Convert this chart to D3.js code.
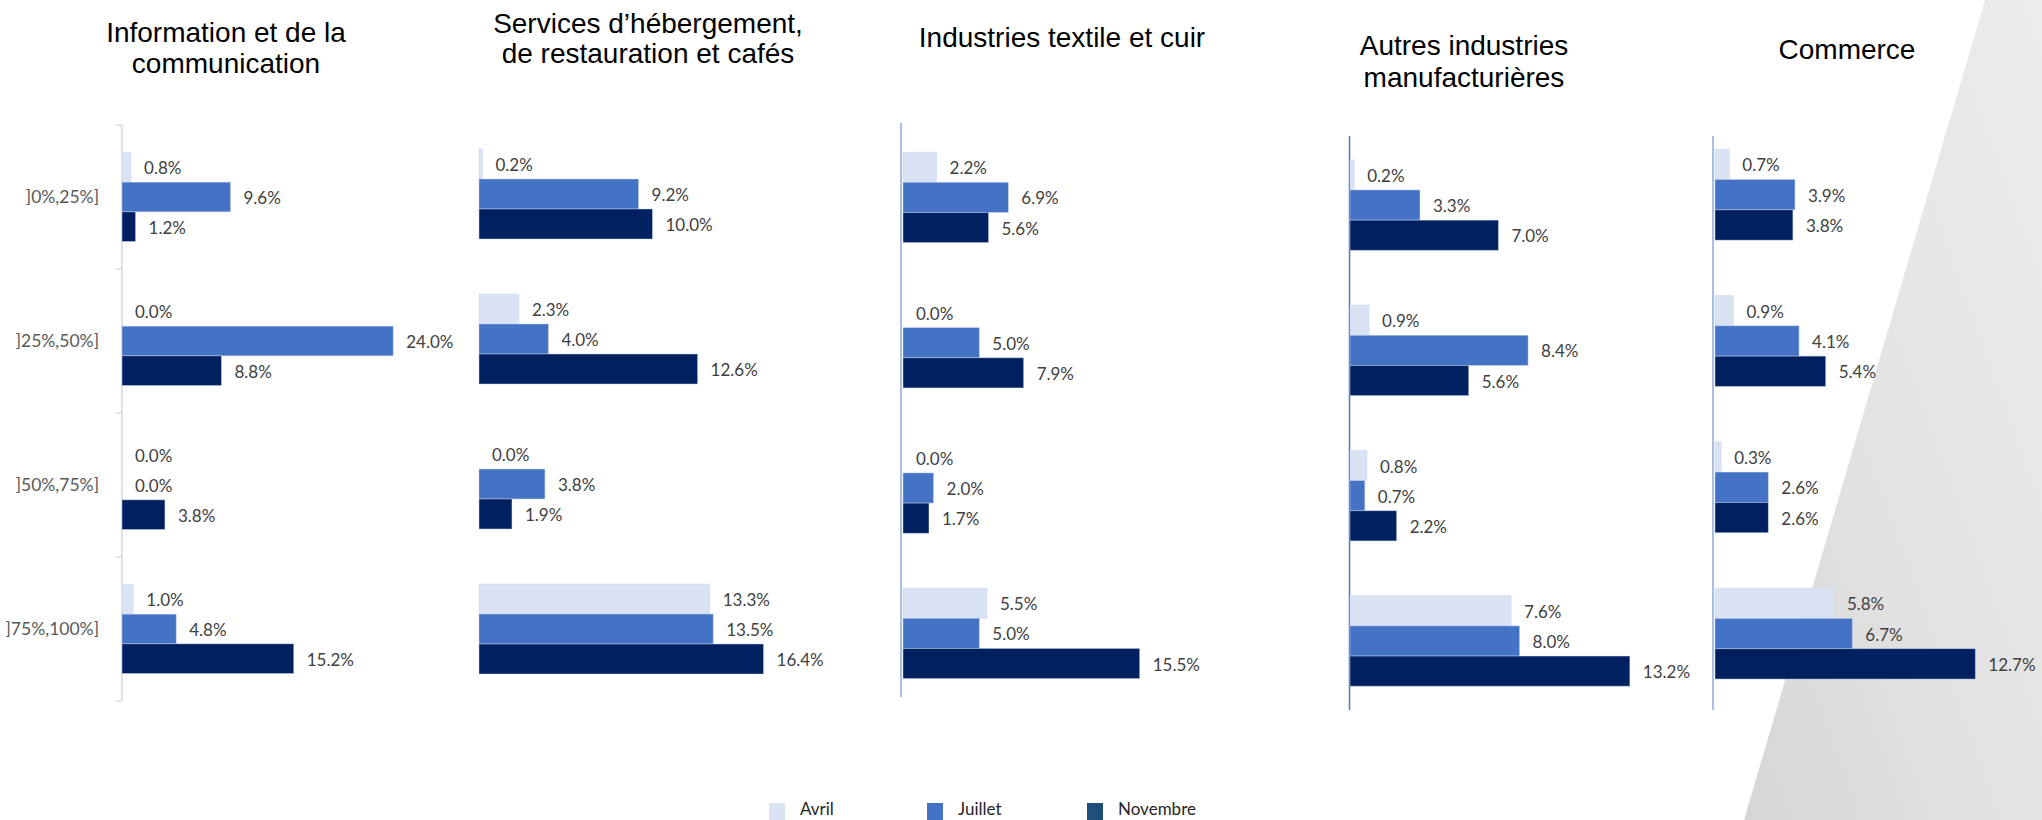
<!DOCTYPE html>
<html>
<head>
<meta charset="utf-8">
<script src="https://cdn.jsdelivr.net/npm/d3@7"></script>
<style>
  html, body { margin: 0; padding: 0; background: #ffffff; }
  svg { display: block; }
</style>
</head>
<body>
<svg id="chart" width="2042" height="820"></svg>
<script>
// ---------------- DATA ----------------
const categories = ["]0%,25%]", "]25%,50%]", "]50%,75%]", "]75%,100%]"];
const seriesNames = ["Avril", "Juillet", "Novembre"];

const titleInformation = ["Information et de la", "communication"];
const titleServices = ["Services d’hébergement,", "de restauration et cafés"];
const titleTextile = ["Industries textile et cuir"];
const titleAutres = ["Autres industries", "manufacturières"];
const titleCommerce = ["Commerce"];

// values in %, one array per month, ordered like categories
const informationAvril = [0.8, 0.0, 0.0, 1.0];
const informationJuillet = [9.6, 24.0, 0.0, 4.8];
const informationNovembre = [1.2, 8.8, 3.8, 15.2];

const servicesAvril = [0.2, 2.3, 0.0, 13.3];
const servicesJuillet = [9.2, 4.0, 3.8, 13.5];
const servicesNovembre = [10.0, 12.6, 1.9, 16.4];

const textileAvril = [2.2, 0.0, 0.0, 5.5];
const textileJuillet = [6.9, 5.0, 2.0, 5.0];
const textileNovembre = [5.6, 7.9, 1.7, 15.5];

const autresAvril = [0.2, 0.9, 0.8, 7.6];
const autresJuillet = [3.3, 8.4, 0.7, 8.0];
const autresNovembre = [7.0, 5.6, 2.2, 13.2];

const commerceAvril = [0.7, 0.9, 0.3, 5.8];
const commerceJuillet = [3.9, 4.1, 2.6, 6.7];
const commerceNovembre = [3.8, 5.4, 2.6, 12.7];

// ---------------- LAYOUT / STYLE ----------------
const barColors = {"Avril": "#dae3f3", "Juillet": "#4472c4", "Novembre": "#002060"};
const legendColors = {"Avril": "#dae3f3", "Juillet": "#4472c4", "Novembre": "#1f4e79"};

const panels = [
  {title: titleInformation, values: [informationAvril, informationJuillet, informationNovembre],
   x0: 122, k: 11.3, yTop: 125, yBot: 701, groupH: 89,
   axis: {x: 122, y1: 125, y2: 701, color: "#d9d9d9", ticks: true},
   tcx: 226, tBase: [41.7, 72.7], catLabels: true},
  {title: titleServices, values: [servicesAvril, servicesJuillet, servicesNovembre],
   x0: 479, k: 17.35, yTop: 121.5, yBot: 701.5, groupH: 90,
   axis: null, tcx: 648, tBase: [33.3, 63.3]},
  {title: titleTextile, values: [textileAvril, textileJuillet, textileNovembre],
   x0: 903, k: 15.27, yTop: 124.7, yBot: 706, groupH: 90.5,
   axis: {x: 901, y1: 123, y2: 697, color: "#8faadc"},
   tcx: 1062, tBase: [46.7]},
  {title: titleAutres, values: [autresAvril, autresJuillet, autresNovembre],
   x0: 1350, k: 21.2, yTop: 132.4, yBot: 713.6, groupH: 90.5,
   axis: {x: 1349.5, y1: 136, y2: 710, color: "#4a76c6"},
   tcx: 1464, tBase: [55, 87]},
  {title: titleCommerce, values: [commerceAvril, commerceJuillet, commerceNovembre],
   x0: 1715, k: 20.5, yTop: 121.5, yBot: 706.7, groupH: 91,
   axis: {x: 1713, y1: 136, y2: 710, color: "#8faadc"},
   tcx: 1847, tBase: [59.3]}
];

const svg = d3.select("#chart");

// background decorative grey shape
const defs = svg.append("defs");
const grad = defs.append("linearGradient").attr("id", "greyGrad")
  .attr("x1", "0").attr("y1", "1").attr("x2", "1").attr("y2", "0");
grad.append("stop").attr("offset", "0%").attr("stop-color", "#d6d6d6");
grad.append("stop").attr("offset", "45%").attr("stop-color", "#e3e3e3");
grad.append("stop").attr("offset", "100%").attr("stop-color", "#ececec");
svg.append("polygon")
  .attr("points", "1985,0 2042,0 2042,820 1744,820")
  .attr("fill", "url(#greyGrad)");

const valueFont = "Lato, 'Open Sans', sans-serif";
const titleFont = "'Liberation Sans', Arial, sans-serif";

panels.forEach(p => {
  const g = svg.append("g");
  const maxDom = 25;
  const x = d3.scaleLinear().domain([0, maxDom]).range([p.x0, p.x0 + p.k * maxDom]);
  const y = d3.scaleBand().domain(categories).range([p.yTop, p.yBot]).paddingInner(0).paddingOuter(0);
  const step = y.bandwidth();
  const ys = d3.scaleBand().domain(seriesNames)
    .range([(step - p.groupH) / 2, (step + p.groupH) / 2]).padding(0);

  // axis
  if (p.axis) {
    g.append("line")
      .attr("x1", p.axis.x).attr("x2", p.axis.x)
      .attr("y1", p.axis.y1).attr("y2", p.axis.y2)
      .attr("stroke", p.axis.color).attr("stroke-width", 1.5);
    if (p.axis.ticks) {
      const tickYs = categories.map(c => y(c)).concat([y(categories[categories.length - 1]) + step]);
      g.selectAll(".tick").data(tickYs).enter().append("line")
        .attr("x1", p.axis.x - 6).attr("x2", p.axis.x)
        .attr("y1", d => d).attr("y2", d => d)
        .attr("stroke", p.axis.color).attr("stroke-width", 1.5);
    }
  }

  // bars + labels
  const rows = [];
  seriesNames.forEach((s, si) => {
    categories.forEach((c, ci) => {
      rows.push({s, c, v: p.values[si][ci]});
    });
  });

  g.selectAll("rect.bar").data(rows).enter().append("rect")
    .attr("class", "bar")
    .attr("x", x(0))
    .attr("y", d => y(d.c) + ys(d.s))
    .attr("width", d => x(d.v) - x(0))
    .attr("height", ys.bandwidth())
    .attr("fill", d => barColors[d.s])
    .attr("stroke", d => d.v > 0 ? "#c9d6ee" : "none")
    .attr("stroke-opacity", 0.6)
    .attr("stroke-width", 0.8);

  g.selectAll("text.val").data(rows).enter().append("text")
    .attr("class", "val")
    .attr("x", d => x(d.v) + 13)
    .attr("y", d => y(d.c) + ys(d.s) + ys.bandwidth() / 2 + 1)
    .attr("dy", "0.36em")
    .attr("font-family", valueFont)
    .attr("font-size", 17)
    .attr("fill", "#404040")
    .text(d => d.v.toFixed(1) + "%");

  if (p.catLabels) {
    g.selectAll("text.cat").data(categories).enter().append("text")
      .attr("class", "cat")
      .attr("x", 99)
      .attr("y", d => y(d) + step / 2)
      .attr("dy", "0.36em")
      .attr("text-anchor", "end")
      .attr("font-family", valueFont)
      .attr("font-size", 17.5)
      .attr("fill", "#595959")
      .text(d => d);
  }

  // title
  p.title.forEach((line, i) => {
    g.append("text")
      .attr("x", p.tcx)
      .attr("y", p.tBase[i])
      .attr("text-anchor", "middle")
      .attr("font-family", titleFont)
      .attr("font-size", 28)
      .attr("fill", "#000000")
      .text(line);
  });
});

// legend
const legendX = {"Avril": 769, "Juillet": 927, "Novembre": 1087};
const lg = svg.append("g");
seriesNames.forEach(s => {
  lg.append("rect")
    .attr("x", legendX[s]).attr("y", 803)
    .attr("width", 16).attr("height", 17)
    .attr("fill", legendColors[s]);
  lg.append("text")
    .attr("x", legendX[s] + 31).attr("y", 815)
    .attr("font-family", valueFont)
    .attr("font-size", 17)
    .attr("fill", "#262626")
    .text(s);
});
</script>
</body>
</html>
